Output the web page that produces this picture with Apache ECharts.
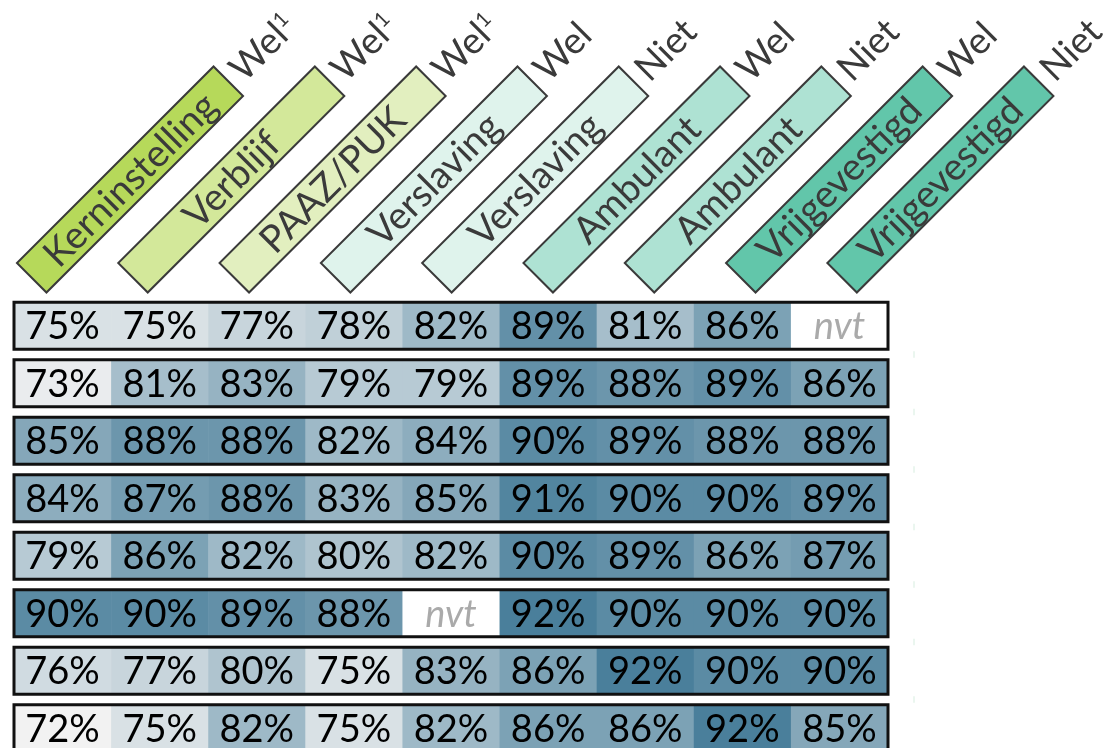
<!DOCTYPE html>
<html><head><meta charset="utf-8">
<script src="https://cdn.jsdelivr.net/npm/echarts@6/dist/echarts.min.js"></script>
<style>html,body{margin:0;padding:0;background:#fff}#c{width:1107px;height:748px}</style>
</head><body><div id="c"></div>
<script>
// ---- data ----
const columnNames = ['Kerninstelling','Verblijf','PAAZ/PUK','Verslaving','Verslaving','Ambulant','Ambulant','Vrijgevestigd','Vrijgevestigd'];
const columnTags  = ['Wel¹','Wel¹','Wel¹','Wel','Niet','Wel','Niet','Wel','Niet'];
const rowIds = ['r1','r2','r3','r4','r5','r6','r7','r8'];
const row1 = [75,75,77,78,82,89,81,86,null];
const row2 = [73,81,83,79,79,89,88,89,86];
const row3 = [85,88,88,82,84,90,89,88,88];
const row4 = [84,87,88,83,85,91,90,90,89];
const row5 = [79,86,82,80,82,90,89,86,87];
const row6 = [90,90,89,88,null,92,90,90,90];
const row7 = [76,77,80,75,83,86,92,90,90];
const row8 = [72,75,82,75,82,86,86,92,85];
const rows = [row1,row2,row3,row4,row5,row6,row7,row8];
const missingLabel = 'nvt';

// ---- styling (kept separate from data) ----
const headerPalette = ['#b6d95a','#d3e89a','#e2efbf','#dff3ec','#dff3ec','#aee2d3','#aee2d3','#62c6aa','#62c6aa'];
const FONT = 'Lato, "Open Sans", sans-serif';

const colIdx = columnNames.map((_, i) => String(i));
const cellData = [];
rows.forEach((r, ri) => r.forEach((v, ci) => cellData.push([ci, ri, v == null ? '-' : v])));

function tagText(t) {
  if (t.endsWith('¹')) return '{m|' + t.slice(0, -1) + '}{s|1}';
  return '{m|' + t + '}';
}

const chart = echarts.init(document.getElementById('c'), null, {renderer: 'canvas'});
chart.setOption({
  animation: false,
  backgroundColor: '#fff',
  grid: [
    {left: 14, top: 297, width: 874, height: 460, outerBoundsMode: 'none', containLabel: false},
    {left: 79.35, top: 0, width: 911.7, height: 359, outerBoundsMode: 'none', containLabel: false}
  ],
  xAxis: [
    {type: 'category', gridIndex: 0, data: colIdx, show: false},
    {type: 'category', gridIndex: 1, data: colIdx, show: false}
  ],
  yAxis: [
    {type: 'category', gridIndex: 0, data: rowIds, inverse: true, show: false},
    {type: 'value', gridIndex: 1, min: -1, max: 1, show: false}
  ],
  visualMap: {
    show: false, type: 'continuous', min: 72, max: 92, dimension: 2, seriesIndex: 0,
    inRange: {color: ['#f2f2f2', '#4a7f9b']}
  },
  series: [
    {
      type: 'custom', xAxisIndex: 0, yAxisIndex: 0, data: cellData,
      encode: {x: 0, y: 1},
      renderItem(params, api) {
        const c = api.value(0), r = api.value(1), v = api.value(2);
        const p = api.coord([c, r]);
        const s = api.size([1, 1]);
        const h = s[1] - 10.5;
        const has = !(v == null || isNaN(v));
        return {
          type: 'group',
          children: [
            {type: 'rect', shape: {x: p[0] - s[0] / 2, y: p[1] - h / 2, width: s[0] + 0.6, height: h},
             style: {fill: has ? api.visual('color') : '#ffffff'}},
            {type: 'text', x: p[0], y: p[1] + 1,
             style: {text: has ? v + '%' : missingLabel, align: 'center', verticalAlign: 'middle',
                     fontFamily: FONT, fontSize: 38, fontStyle: has ? 'normal' : 'italic',
                     fill: has ? '#000000' : '#aaaaaa'}}
          ]
        };
      }
    },
    {
      type: 'custom', xAxisIndex: 0, yAxisIndex: 0, z: 5,
      data: rowIds.map((_, i) => [0, i]),
      encode: {x: 0, y: 1},
      renderItem(params, api) {
        const r = api.value(1);
        const p0 = api.coord([0, r]);
        const p8 = api.coord([columnNames.length - 1, r]);
        const s = api.size([1, 1]);
        const h = s[1] - 10.5;
        const x0 = p0[0] - s[0] / 2, x1 = p8[0] + s[0] / 2;
        const children = [
          {type: 'rect', shape: {x: x0, y: p0[1] - h / 2, width: x1 - x0, height: h},
           style: {fill: 'none', stroke: '#111111', lineWidth: 3}}
        ];
        if (r < rowIds.length - 1) {
          const yb = p0[1] + h / 2 + 2, yt = p0[1] + s[1] - h / 2 - 2;
          children.push({type: 'line', shape: {x1: x1 + 26, y1: yb, x2: x1 + 26, y2: yt},
                         style: {stroke: '#d6eddf', lineWidth: 1}});
        }
        return {type: 'group', children};
      }
    },
    {
      type: 'custom', xAxisIndex: 1, yAxisIndex: 1,
      data: columnNames.map((_, i) => [i, 0]),
      encode: {x: 0, y: 1},
      renderItem(params, api) {
        const i = api.value(0);
        const p = api.coord([i, 0]);
        const L = 278, H = 41.7;
        return {
          type: 'group', x: p[0], y: p[1], rotation: Math.PI / 4,
          children: [
            {type: 'rect', shape: {x: -L / 2, y: -H / 2, width: L, height: H},
             style: {fill: headerPalette[i], stroke: '#3a3a3a', lineWidth: 2}},
            {type: 'text', x: 0, y: 1,
             style: {text: columnNames[i], align: 'center', verticalAlign: 'middle',
                     fontFamily: FONT, fontSize: 38, fill: '#3a3a3a'}},
            {type: 'text', x: L / 2 + 10, y: 1,
             style: {text: tagText(columnTags[i]), align: 'left', verticalAlign: 'middle',
                     fill: '#3a3a3a',
                     rich: {
                       m: {fontFamily: FONT, fontSize: 37, fill: '#3a3a3a', lineHeight: 40},
                       s: {fontFamily: FONT, fontSize: 21, fill: '#3a3a3a', verticalAlign: 'top', lineHeight: 40, padding: [2, 0, 0, 0]}
                     }}}
          ]
        };
      }
    }
  ]
});
</script>
</body></html>
